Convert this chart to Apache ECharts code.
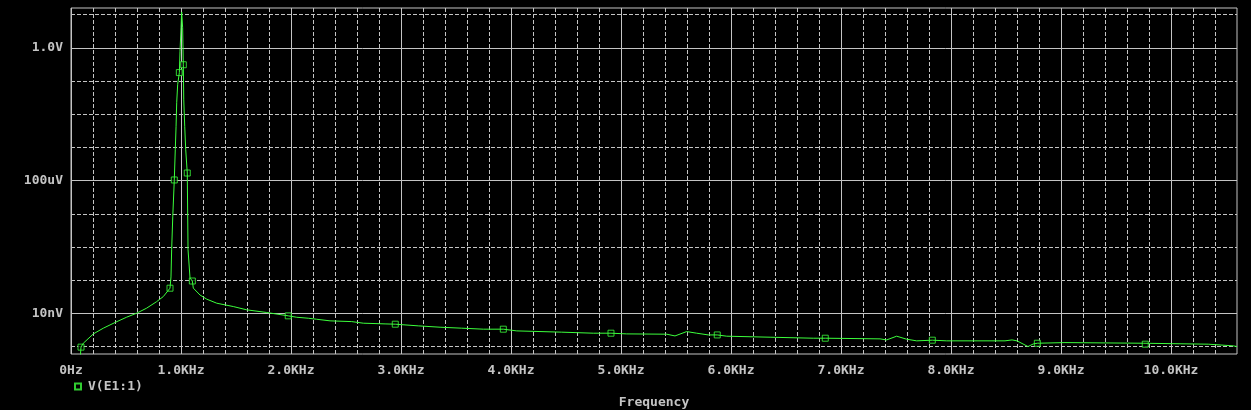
<!DOCTYPE html>
<html>
<head>
<meta charset="utf-8">
<script src="https://cdn.jsdelivr.net/npm/echarts@6/dist/echarts.min.js"></script>
<style>
  html, body { margin: 0; padding: 0; background: #000; }
  #chart { width: 1251px; height: 410px; }
</style>
</head>
<body>
<div id="chart"></div>
<script>
// frequency (Hz) and V(E1:1) magnitude (V)
const freqHz = [78, 91, 112, 203, 294, 406, 506, 597, 688, 779, 839, 900, 909, 915, 925, 939, 948, 955, 961, 970, 985, 991,
  1000, 1006, 1015, 1021, 1025, 1034, 1043, 1057, 1064, 1082, 1103, 1112, 1173, 1234, 1325, 1475, 1597, 1779, 1975,
  2052, 2157, 2234, 2355, 2552, 2657, 2855, 2948, 3157, 3355, 3552, 3748, 3930, 4052, 4461, 4748, 4909,
  5052, 5415, 5491, 5597, 5688, 5794, 5875, 5961, 6355, 6748, 6857, 7355, 7415, 7506, 7597, 7688, 7830, 7961,
  8491, 8555, 8600, 8700, 8748, 8785, 9036, 9748, 9766, 10339, 10566, 10600];
const voltsV = [2.5e-10, 9.7e-10, 1.27e-9, 2.43e-9, 3.61e-9, 5.47e-9, 7.74e-9, 1.02e-8, 1.45e-8, 2.28e-8, 3.23e-8, 5.78e-8, 1.26e-7, 8.3e-7, 8.1e-6, 1.05e-4, 8.5e-4, 4.2e-3, 2.3e-2, 8.0e-2, 0.18, 0.76,
  4.0, 12, 4.0, 0.31, 2.7e-2, 4.2e-3, 8.5e-4, 1.7e-4, 8.3e-7, 1.17e-7, 9.5e-8, 5.8e-8, 3.6e-8, 2.7e-8, 2.04e-8, 1.62e-8, 1.29e-8, 1.07e-8, 8.5e-9,
  7.7e-9, 7.2e-9, 6.7e-9, 6.0e-9, 5.7e-9, 5.1e-9, 4.86e-9, 4.76e-9, 4.24e-9, 3.86e-9, 3.61e-9, 3.37e-9, 3.37e-9, 2.99e-9, 2.74e-9, 2.55e-9, 2.55e-9,
  2.43e-9, 2.38e-9, 2.11e-9, 2.85e-9, 2.55e-9, 2.26e-9, 2.26e-9, 2.07e-9, 1.93e-9, 1.80e-9, 1.80e-9, 1.72e-9, 1.60e-9, 2.07e-9, 1.68e-9, 1.50e-9, 1.57e-9, 1.50e-9,
  1.50e-9, 1.60e-9, 1.50e-9, 1.01e-9, 1.21e-9, 1.27e-9, 1.33e-9, 1.27e-9, 1.19e-9, 1.19e-9, 1.06e-9, 1.01e-9];
// points that carry the square trace marker
const markerFreqs = [91, 900, 939, 985, 1021, 1057, 1103, 1975, 2948, 3930, 4909, 5875, 6857, 7830, 8785, 9766];

// axis ticks
const xMajorTicks = [0, 1000, 2000, 3000, 4000, 5000, 6000, 7000, 8000, 9000, 10000];
const xMinorTicks = [200, 400, 600, 800, 1200, 1400, 1600, 1800, 2200, 2400, 2600, 2800, 3200, 3400, 3600, 3800,
  4200, 4400, 4600, 4800, 5200, 5400, 5600, 5800, 6200, 6400, 6600, 6800, 7200, 7400, 7600, 7800,
  8200, 8400, 8600, 8800, 9200, 9400, 9600, 9800, 10200, 10400];
const yMajorExp = [-8, -4, 0];          // 10nV, 100uV, 1.0V
const yMinorExp = [-9, -7, -6, -5, -3, -2, -1, 1];
const yLabels = { '-8': '10nV', '-4': '100uV', '0': '1.0V' };

const xMin = 0, xMax = 10600;
const yMin = -9.22, yMax = 1.2;   // log10(V)

const GREEN = '#3cff3c';
const GREY = '#c4c4c4';
const FONT = 'DejaVu Sans Mono';

const lineData = freqHz.map((f, i) => [f, Math.log10(voltsV[i])]);
const markData = lineData.filter(p => markerFreqs.indexOf(p[0]) >= 0);

const dashed = { show: true, lineStyle: { color: GREY, width: 1, type: [4, 2] } };
const solid = { show: true, lineStyle: { color: GREY, width: 1, type: 'solid' } };
const txt = { color: GREY, fontFamily: FONT, fontSize: 13, fontWeight: 'bold' };

const chart = echarts.init(document.getElementById('chart'), null, { renderer: 'canvas' });
chart.setOption({
  backgroundColor: '#000',
  animation: false,
  grid: {
    left: 71, right: 14, top: 8, bottom: 56,
    outerBoundsMode: 'none', containLabel: false,
    show: true, borderColor: GREY, borderWidth: 1, backgroundColor: '#000'
  },
  legend: {
    data: ['V(E1:1)'],
    left: 74, top: 380, padding: 0,
    itemWidth: 6, itemHeight: 6,
    textStyle: Object.assign({ padding: [0, 0, 0, 2] }, txt)
  },
  xAxis: [
    {
      type: 'value', min: xMin, max: xMax, position: 'bottom',
      axisLine: { show: false }, axisLabel: { show: false },
      axisTick: { show: false, customValues: xMinorTicks },
      splitLine: dashed
    },
    {
      type: 'value', min: xMin, max: xMax, position: 'bottom', offset: 0,
      axisLine: { show: false },
      axisTick: { show: false, customValues: xMajorTicks },
      axisLabel: Object.assign({
        customValues: xMajorTicks, margin: 10,
        formatter: v => v === 0 ? '0Hz' : (v / 1000).toFixed(1) + 'KHz'
      }, txt),
      splitLine: solid,
      name: 'Frequency', nameLocation: 'middle', nameGap: 42,
      nameTextStyle: txt
    }
  ],
  yAxis: [
    {
      type: 'value', min: yMin, max: yMax,
      axisLine: { show: false }, axisLabel: { show: false },
      axisTick: { show: false, customValues: yMinorExp },
      splitLine: dashed
    },
    {
      type: 'value', min: yMin, max: yMax, position: 'left', offset: 0,
      axisLine: { show: false },
      axisTick: { show: false, customValues: yMajorExp },
      axisLabel: Object.assign({
        customValues: yMajorExp, margin: 8,
        formatter: v => yLabels[String(Math.round(v))] || ''
      }, txt),
      splitLine: solid
    }
  ],
  series: [
    {
      name: 'trace', type: 'line', xAxisIndex: 1, yAxisIndex: 1,
      data: lineData, showSymbol: false, clip: true,
      lineStyle: { color: GREEN, width: 1 }
    },
    {
      name: 'V(E1:1)', type: 'scatter', xAxisIndex: 1, yAxisIndex: 1,
      data: markData, symbol: 'rect', symbolSize: 6,
      itemStyle: { color: '#000', borderColor: GREEN, borderWidth: 1 }
    }
  ]
});
</script>
</body>
</html>
